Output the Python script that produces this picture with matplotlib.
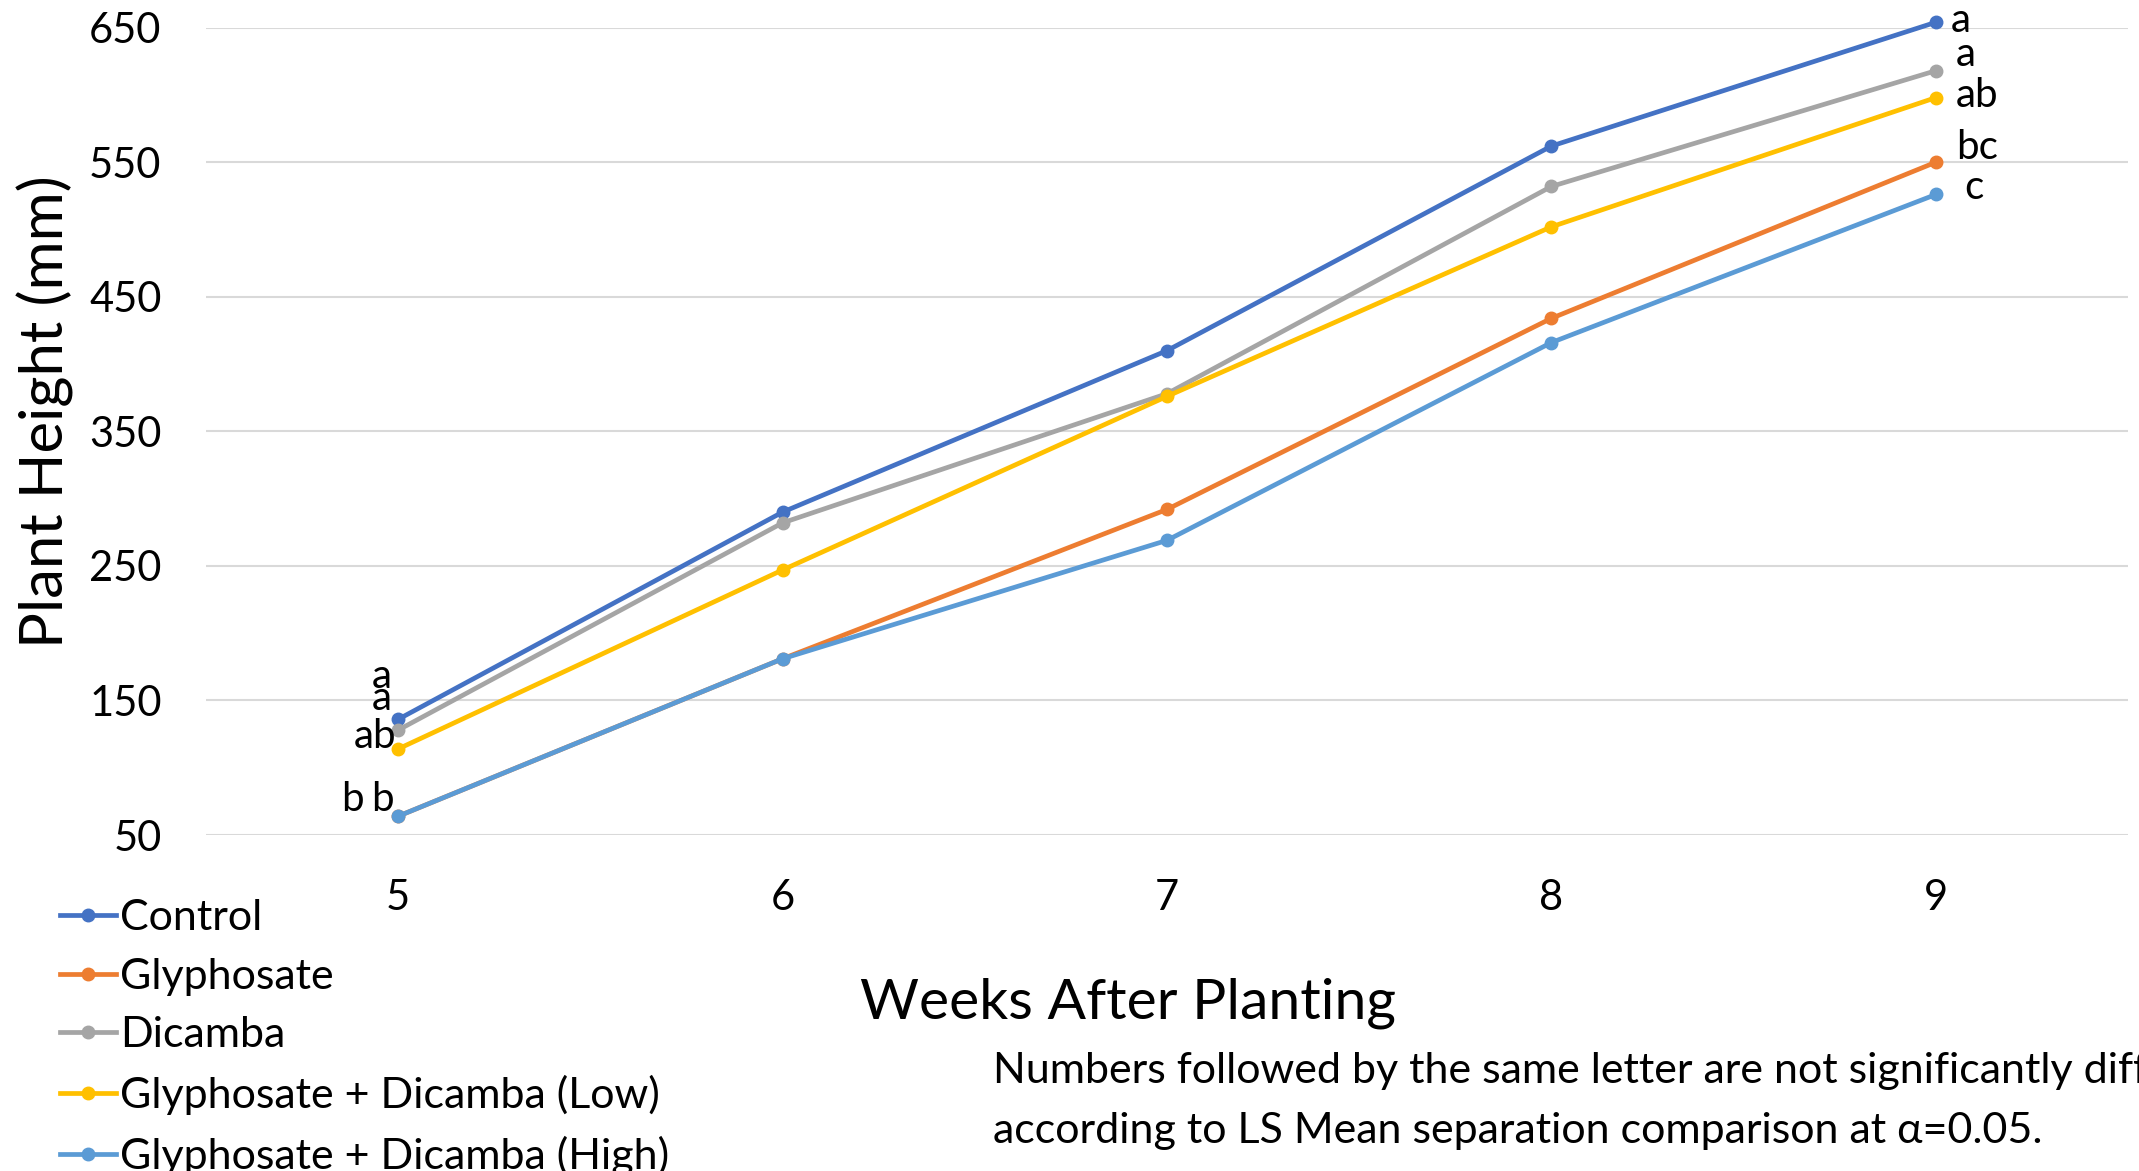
import matplotlib
matplotlib.use("Agg")
import matplotlib.pyplot as plt

plt.rcParams['font.family'] = ['Lato', 'DejaVu Sans']

weeks = [5, 6, 7, 8, 9]
series_names = ['Control', 'Glyphosate', 'Dicamba',
                'Glyphosate + Dicamba (Low)', 'Glyphosate + Dicamba (High)']
control = [136, 290, 410, 562, 654]
glyphosate = [64, 181, 292, 434, 550]
dicamba = [128, 282, 378, 532, 618]
gd_low = [114, 247, 376, 502, 598]
gd_high = [64, 181, 269, 416, 526]
letters_wk5 = ['a', 'b', 'a', 'ab', 'b']
letters_wk9 = ['a', 'bc', 'a', 'ab', 'c']

colors = ['#4472C4', '#ED7D31', '#A5A5A5', '#FFC000', '#5B9BD5']
# label offsets in pixels (dx, dy) so the letters don't pile on top of each other
off_wk5 = [(-6, 43), (-34, 17), (-6, 32), (-2, 12), (-4, 17)]
off_wk9 = [(15, 2), (20, 15), (20, 16), (20, 2), (28, 7)]

fig = plt.figure(figsize=(21.39, 11.71), dpi=100)
ax = fig.add_axes([0.0963, 0.2869, 0.8986, 0.6895])

all_series = [control, glyphosate, dicamba, gd_low, gd_high]
for vals, name, c in zip(all_series, series_names, colors):
    ax.plot(weeks, vals, color=c, lw=3.4, marker='o', markersize=9,
            label=name, clip_on=False, zorder=3)

for i, vals in enumerate(all_series):
    ax.annotate(letters_wk5[i], xy=(weeks[0], vals[0]), xytext=off_wk5[i],
                textcoords='offset pixels', ha='right', va='center',
                fontsize=29, annotation_clip=False)
    ax.annotate(letters_wk9[i], xy=(weeks[-1], vals[-1]), xytext=off_wk9[i],
                textcoords='offset pixels', ha='left', va='center',
                fontsize=29, annotation_clip=False)

ax.set_xlim(4.5, 9.5)
ax.set_ylim(50, 650)
ax.set_xticks(weeks)
ax.set_yticks(range(50, 651, 100))
ax.grid(axis='y', color='#D9D9D9', lw=1.5)
ax.set_axisbelow(True)
for s in ax.spines.values():
    s.set_visible(False)
ax.tick_params(axis='both', length=0, labelsize=30)
ax.tick_params(axis='x', pad=32)
ax.tick_params(axis='y', pad=32)

fig.text(45 / 2139, 1 - 412 / 1171, 'Plant Height (mm)', rotation=90,
         ha='center', va='center', fontsize=43)
fig.text(1128 / 2139, 1 - 1003 / 1171, 'Weeks After Planting',
         ha='center', va='center', fontsize=41)

fig.legend(loc='upper left', bbox_to_anchor=(60 / 2139, 1 - 899 / 1171),
           frameon=False, fontsize=31, handlelength=1.3, handletextpad=0.1,
           labelspacing=0.48, borderpad=0, borderaxespad=0)

fig.text(993 / 2139, 1 - 1071 / 1171,
         'Numbers followed by the same letter are not significantly different',
         ha='left', va='center', fontsize=31)
fig.text(993 / 2139, 1 - 1131 / 1171,
         'according to LS Mean separation comparison at α=0.05.',
         ha='left', va='center', fontsize=31)

fig.savefig('out.png', dpi=100)
